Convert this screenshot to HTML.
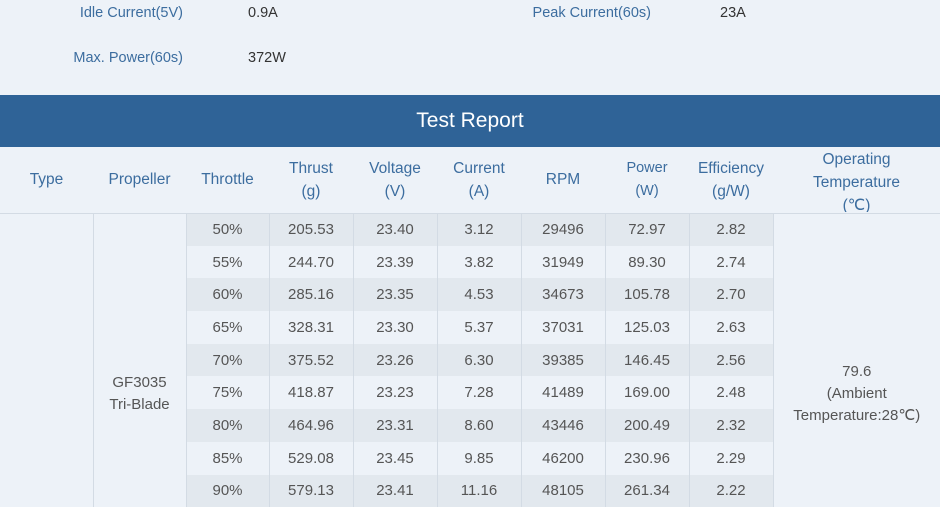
<!DOCTYPE html>
<html><head><meta charset="utf-8"><style>
*{margin:0;padding:0;box-sizing:border-box}
body{width:940px;height:507px;overflow:hidden;background:#edf2f8;font-family:"Liberation Sans",sans-serif;position:relative}
.a{position:absolute;white-space:nowrap}
.lab{color:#3c6d9f;font-size:14.5px;text-align:right}
.val{color:#333;font-size:14.5px}
.bar{position:absolute;left:0;top:95px;width:940px;height:52px;background:#2f6397;color:#fff;font-size:21px;text-align:center;line-height:52px}
table{position:absolute;left:0;top:147px;border-collapse:collapse;width:940px;table-layout:fixed}
th{color:#3c6d9f;font-weight:normal;font-size:15.5px;height:66px;padding:0;border-bottom:1px solid #d3dbe4;vertical-align:middle}
th div{height:65px;overflow:hidden;line-height:23px;display:flex;flex-direction:column;justify-content:center}
td{color:#555;font-size:15px;text-align:center;height:32.7px;padding:0;border:1px solid #d3dbe4;border-top:none;border-bottom:none}
tr.o td.d{background:#e2e8ee}
tr.e td.d{background:#edf2f8}
td.m{background:#edf2f8;color:#555;line-height:22px;padding-top:68px}
</style></head><body>
<div class="a lab" style="right:757px;top:5px">Idle Current(5V)</div>
<div class="a val" style="left:248px;top:5px">0.9A</div>
<div class="a lab" style="right:757px;top:50px">Max. Power(60s)</div>
<div class="a val" style="left:248px;top:50px">372W</div>
<div class="a lab" style="right:289px;top:5px">Peak Current(60s)</div>
<div class="a val" style="left:720px;top:5px">23A</div>
<div class="bar">Test Report</div>
<table>
<colgroup><col style="width:93px"><col style="width:93px"><col style="width:83px"><col style="width:84px"><col style="width:84px"><col style="width:84px"><col style="width:84px"><col style="width:84px"><col style="width:84px"><col style="width:167px"></colgroup>
<tr><th><div>Type</div></th><th><div>Propeller</div></th><th><div>Throttle</div></th><th><div>Thrust<br>(g)</div></th><th><div>Voltage<br>(V)</div></th><th><div>Current<br>(A)</div></th><th><div>RPM</div></th><th style="font-size:14.5px"><div>Power<br>(W)</div></th><th><div>Efficiency<br>(g/W)</div></th><th><div style="justify-content:flex-start;padding-top:1px">Operating<br>Temperature<br>(℃)</div></th></tr>
<tr class="o"><td class="m" rowspan="9" style="border-left:none"></td><td class="m" rowspan="9">GF3035<br>Tri-Blade</td><td class="d">50%</td><td class="d">205.53</td><td class="d">23.40</td><td class="d">3.12</td><td class="d">29496</td><td class="d">72.97</td><td class="d">2.82</td><td class="m" rowspan="9" style="border-right:none">79.6<br>(Ambient<br>Temperature:28℃)</td></tr>
<tr class="e"><td class="d">55%</td><td class="d">244.70</td><td class="d">23.39</td><td class="d">3.82</td><td class="d">31949</td><td class="d">89.30</td><td class="d">2.74</td></tr>
<tr class="o"><td class="d">60%</td><td class="d">285.16</td><td class="d">23.35</td><td class="d">4.53</td><td class="d">34673</td><td class="d">105.78</td><td class="d">2.70</td></tr>
<tr class="e"><td class="d">65%</td><td class="d">328.31</td><td class="d">23.30</td><td class="d">5.37</td><td class="d">37031</td><td class="d">125.03</td><td class="d">2.63</td></tr>
<tr class="o"><td class="d">70%</td><td class="d">375.52</td><td class="d">23.26</td><td class="d">6.30</td><td class="d">39385</td><td class="d">146.45</td><td class="d">2.56</td></tr>
<tr class="e"><td class="d">75%</td><td class="d">418.87</td><td class="d">23.23</td><td class="d">7.28</td><td class="d">41489</td><td class="d">169.00</td><td class="d">2.48</td></tr>
<tr class="o"><td class="d">80%</td><td class="d">464.96</td><td class="d">23.31</td><td class="d">8.60</td><td class="d">43446</td><td class="d">200.49</td><td class="d">2.32</td></tr>
<tr class="e"><td class="d">85%</td><td class="d">529.08</td><td class="d">23.45</td><td class="d">9.85</td><td class="d">46200</td><td class="d">230.96</td><td class="d">2.29</td></tr>
<tr class="o"><td class="d">90%</td><td class="d">579.13</td><td class="d">23.41</td><td class="d">11.16</td><td class="d">48105</td><td class="d">261.34</td><td class="d">2.22</td></tr>
</table>
</body></html>
